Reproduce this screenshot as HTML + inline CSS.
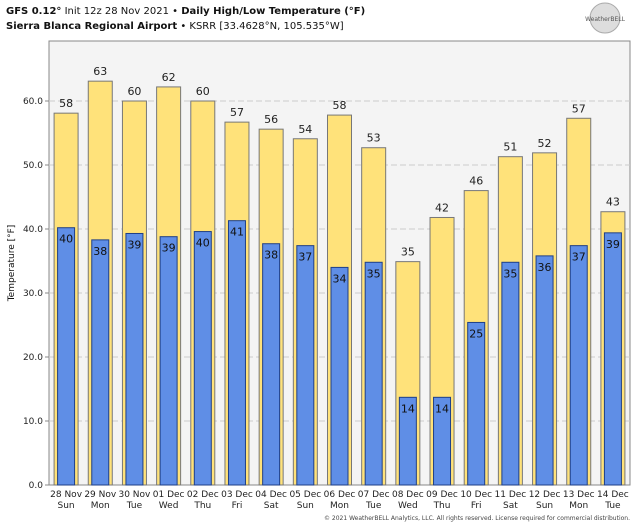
<!DOCTYPE html>
<html><head><meta charset="utf-8"><style>
body{margin:0;background:#fff;font-family:"DejaVu Sans","Liberation Sans",sans-serif;}
svg text{font-family:"DejaVu Sans","Liberation Sans",sans-serif;}
</style></head><body>
<svg id="c" width="640" height="526" xmlns="http://www.w3.org/2000/svg">
<text x="6" y="14" font-size="10" fill="#111"><tspan font-weight="bold">GFS 0.12°</tspan> Init 12z 28 Nov 2021 • <tspan font-weight="bold">Daily High/Low Temperature (°F)</tspan></text>
<text x="6" y="29" font-size="10" fill="#111"><tspan font-weight="bold">Sierra Blanca Regional Airport</tspan> • KSRR [33.4628°N, 105.535°W]</text>
<g>
<circle cx="605" cy="18" r="15" fill="#ddd" stroke="#aaa"/>
<text x="605" y="21" font-size="6" text-anchor="middle" fill="#555">WeatherBELL</text>
</g>
<rect x="49" y="41" width="581" height="444" fill="#f4f4f4" stroke="#888"/>
<g id="grid"></g><g id="bars"></g><g id="axes"></g>
<text transform="translate(14,263) rotate(-90)" font-size="9" text-anchor="middle" fill="#111">Temperature [°F]</text>
<text x="630" y="520" font-size="6" text-anchor="end" fill="#444">© 2021 WeatherBELL Analytics, LLC. All rights reserved. License required for commercial distribution.</text>
</svg>
<script>
const dates=["28 Nov","29 Nov","30 Nov","01 Dec","02 Dec","03 Dec","04 Dec","05 Dec","06 Dec","07 Dec","08 Dec","09 Dec","10 Dec","11 Dec","12 Dec","13 Dec","14 Dec"];
const days=["Sun","Mon","Tue","Wed","Thu","Fri","Sat","Sun","Mon","Tue","Wed","Thu","Fri","Sat","Sun","Mon","Tue"];
const highs=[58.1,63.1,60,62.2,60,56.7,55.6,54.1,57.8,52.7,34.9,41.8,46,51.3,51.9,57.3,42.7];
const lows=[40.2,38.3,39.3,38.8,39.6,41.3,37.7,37.4,34,34.8,13.7,13.7,25.4,34.8,35.8,37.4,39.4];
const yTicks=[0,10,20,30,40,50,60];
const NS="http://www.w3.org/2000/svg";
const x0=49,pw=581,y0=485,ppu=6.4;
const step=pw/dates.length;
const yS=v=>y0-v*ppu;
const xC=i=>x0+step*(i+0.5);
function mk(t,a,p){const e=document.createElementNS(NS,t);for(const k in a)e.setAttribute(k,a[k]);p.appendChild(e);return e;}
const grid=document.getElementById('grid'),bars=document.getElementById('bars'),axes=document.getElementById('axes');
yTicks.forEach(v=>{
 if(v>0){const l=mk('line',{x1:x0,x2:x0+pw,y1:yS(v),y2:yS(v),stroke:'#ccc','stroke-dasharray':'6,3'},grid);
 
 }
 const t=mk('text',{x:x0-6,y:yS(v)+3,'font-size':9,'text-anchor':'end',fill:'#222'},axes);t.textContent=v.toFixed(1);
 
 
 mk('line',{x1:x0-4,x2:x0,y1:yS(v),y2:yS(v),stroke:'#888'},axes);
});
dates.forEach((d,i)=>{
 const c=xC(i);
 const hb=mk('rect',{x:c-12,y:yS(highs[i]),width:24,height:highs[i]*ppu,fill:'#ffe27a',stroke:'#777','stroke-width':1},bars);
 
 
 const lb=mk('rect',{x:c-8.5,y:yS(lows[i]),width:17,height:lows[i]*ppu,fill:'#5f8ee6',stroke:'#1f3f86','stroke-width':1},bars);
 
 
 const ht=mk('text',{x:c,y:yS(highs[i])-6,'font-size':11,'text-anchor':'middle',fill:'#222'},bars);ht.textContent=Math.round(highs[i]);
 
 
 const lt=mk('text',{x:c,y:yS(lows[i])+15,'font-size':11,'text-anchor':'middle',fill:'#111'},bars);lt.textContent=Math.round(lows[i]);
 
 
 const t1=mk('text',{x:c,y:497,'font-size':9,'text-anchor':'middle',fill:'#222'},axes);t1.textContent=d;
 
 
 const t2=mk('text',{x:c,y:508,'font-size':9,'text-anchor':'middle',fill:'#222'},axes);t2.textContent=days[i];
 
 
});
</script>
</body></html>
